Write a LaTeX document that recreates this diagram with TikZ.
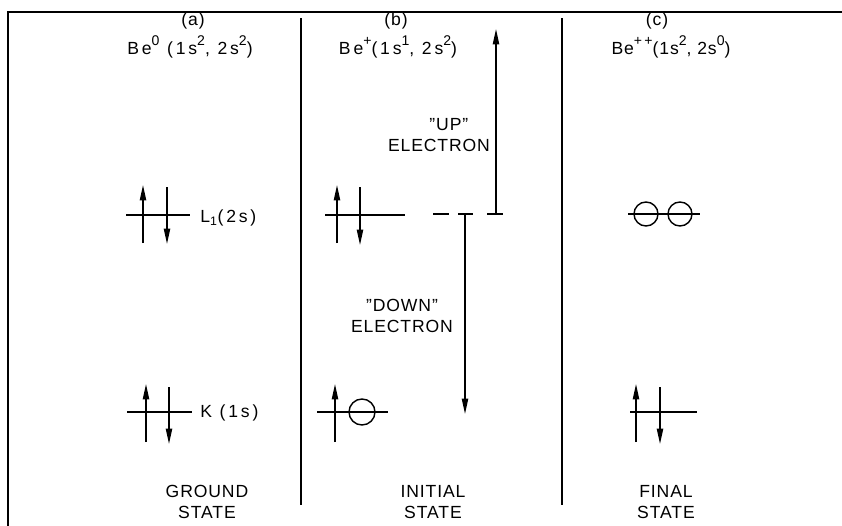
\documentclass[tikz,border=0pt]{standalone}
\usepackage{fontspec}
\setmainfont{Liberation Sans}[LetterSpace=5]
\usetikzlibrary{arrows.meta}

\newcommand{\upidx}[1]{\raisebox{0.5em}{\fontsize{10}{10}\selectfont #1}}
\newcommand{\wide}{\addfontfeature{LetterSpace=16}}

\begin{document}
\begin{tikzpicture}[x=0.025cm, y=-0.025cm,
    lbl/.style={font=\fontsize{12.5}{15}\selectfont, inner sep=0pt, align=center},
    level/.style={line width=1.3pt},
    spin/.style={line width=1pt, -{Triangle[length=11pt, width=4.5pt]}},
    hole/.style={line width=1pt}]

    \useasboundingbox (0,0) rectangle (842,526);

    % Frame and dividers
    \draw[line width=1.4pt] (8,526) -- (8,12) -- (842,12);
    \draw[line width=1.1pt] (301,18) -- (301,505);
    \draw[line width=1.1pt] (562,18) -- (562,505);

    % Column (a): ground state
    \node[lbl] (taga) at (193,21) {(a)};
    \node[lbl] (confa) at (190,47) {\wide Be\upidx{0} (1s\upidx{2}, 2s\upidx{2})};
    \draw[level] (126,215) -- (190,215);
    \draw[spin] (143,243) -- (143,185);
    \draw[spin] (167,187) -- (167,244);
    \node[lbl, anchor=west] (lone) at (200,218) {\wide L\textsubscript{1}(2s)};
    \draw[level] (127,412) -- (192,412);
    \draw[spin] (146,442) -- (146,384);
    \draw[spin] (169,387) -- (169,444);
    \node[lbl, anchor=west] (kay) at (200,413) {\wide K (1s)};
    \node[lbl] (grnd) at (207,502) {GROUND\\STATE};

    % Column (b): initial state
    \node[lbl] (tagb) at (396,21) {(b)};
    \node[lbl] (confb) at (398,47) {\wide Be\upidx{+}(1s\upidx{1}, 2s\upidx{2})};
    \draw[level] (325,215) -- (405,215);
    \draw[spin] (337,243) -- (337,185);
    \draw[spin] (360,187) -- (360,245);
    \draw[level] (317,412) -- (388,412);
    \draw[spin] (335,442) -- (335,384);
    \draw[hole] (362,412) circle (13);
    \node[lbl] (init) at (433,502) {INITIAL\\STATE};

    % Up and down electron
    \draw[level] (433,214) -- (449,214);
    \draw[level] (458,214) -- (473,214);
    \draw[level] (487,214) -- (503,214);
    \draw[spin] (465,214) -- (465,414);
    \draw[spin] (496,214) -- (496,29);
    \node[lbl] (upel) at (439,135) {\hspace*{14pt}"UP"\\ELECTRON};
    \node[lbl] (dnel) at (402,316) {"DOWN"\\ELECTRON};

    % Column (c): final state
    \node[lbl] (tagc) at (657,21) {(c)};
    \node[lbl] (confc) at (671,47) {Be\upidx{+\,+}(1s\upidx{2}, 2s\upidx{0})};
    \draw[level] (628,214) -- (700,214);
    \draw[hole] (646,214) circle (12);
    \draw[hole] (680,214) circle (12);
    \draw[level] (630,412) -- (697,412);
    \draw[spin] (636,442) -- (636,384);
    \draw[spin] (660,387) -- (660,444);
    \node[lbl] (finl) at (666,502) {FINAL\\STATE};
\end{tikzpicture}
\end{document}
